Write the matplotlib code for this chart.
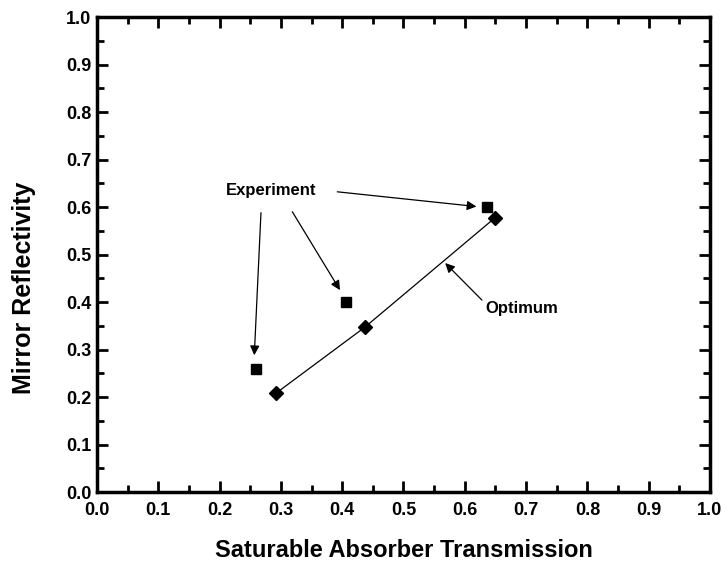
import matplotlib
matplotlib.use("Agg")
import matplotlib.pyplot as plt
from matplotlib.ticker import MultipleLocator, FormatStrFormatter

# Data
exp_x = [0.26, 0.407, 0.637]
exp_y = [0.26, 0.401, 0.600]
opt_x = [0.292, 0.437, 0.649]
opt_y = [0.208, 0.347, 0.577]

xlabel = "Saturable Absorber Transmission"
ylabel = "Mirror Reflectivity"
exp_label = "Experiment"
opt_label = "Optimum"

plt.rcParams['font.family'] = ['Liberation Sans', 'DejaVu Sans']

fig = plt.figure(figsize=(7.25, 5.65), dpi=100)
ax = fig.add_axes([0.1338, 0.1292, 0.8455, 0.8407])

ax.plot(opt_x, opt_y, color='black', lw=0.9, marker='D', markersize=7, zorder=3)
ax.plot(exp_x, exp_y, ls='none', color='black', marker='s', markersize=7, zorder=3)

ax.set_xlim(0, 1)
ax.set_ylim(0, 1)
ax.xaxis.set_major_locator(MultipleLocator(0.1))
ax.xaxis.set_minor_locator(MultipleLocator(0.05))
ax.yaxis.set_major_locator(MultipleLocator(0.1))
ax.yaxis.set_minor_locator(MultipleLocator(0.05))
ax.xaxis.set_major_formatter(FormatStrFormatter('%.1f'))
ax.yaxis.set_major_formatter(FormatStrFormatter('%.1f'))
ax.tick_params(which='both', direction='in', top=True, right=True, width=2)
ax.tick_params(which='major', length=8, labelsize=13)
ax.tick_params(axis='x', which='major', pad=7)
ax.tick_params(axis='y', which='major', pad=4)
ax.tick_params(which='minor', length=5)
for lab in ax.get_xticklabels() + ax.get_yticklabels():
    lab.set_fontweight('bold')
for s in ax.spines.values():
    s.set_linewidth(2.5)

ax.set_xlabel(xlabel, fontsize=17, fontweight='bold')
ax.set_ylabel(ylabel, fontsize=18, fontweight='bold')
ax.xaxis.set_label_coords(0.5, -0.098)
ax.yaxis.set_label_coords(-0.1, 0.43)

ax.text(0.284, 0.635, exp_label, fontsize=12, fontweight='bold', ha='center', va='center')
ap = dict(arrowstyle='-|>', color='black', lw=0.9, mutation_scale=14, shrinkA=0, shrinkB=0)
ax.annotate('', xy=(0.2566, 0.288), xytext=(0.2675, 0.588), arrowprops=ap)
ax.annotate('', xy=(0.3964, 0.425), xytext=(0.3186, 0.590), arrowprops=ap)
ax.annotate('', xy=(0.619, 0.601), xytext=(0.392, 0.632), arrowprops=ap)

ax.text(0.634, 0.387, opt_label, fontsize=12, fontweight='bold', ha='left', va='center')
ax.annotate('', xy=(0.568, 0.482), xytext=(0.628, 0.404), arrowprops=ap)

fig.savefig('out.png', dpi=100)
